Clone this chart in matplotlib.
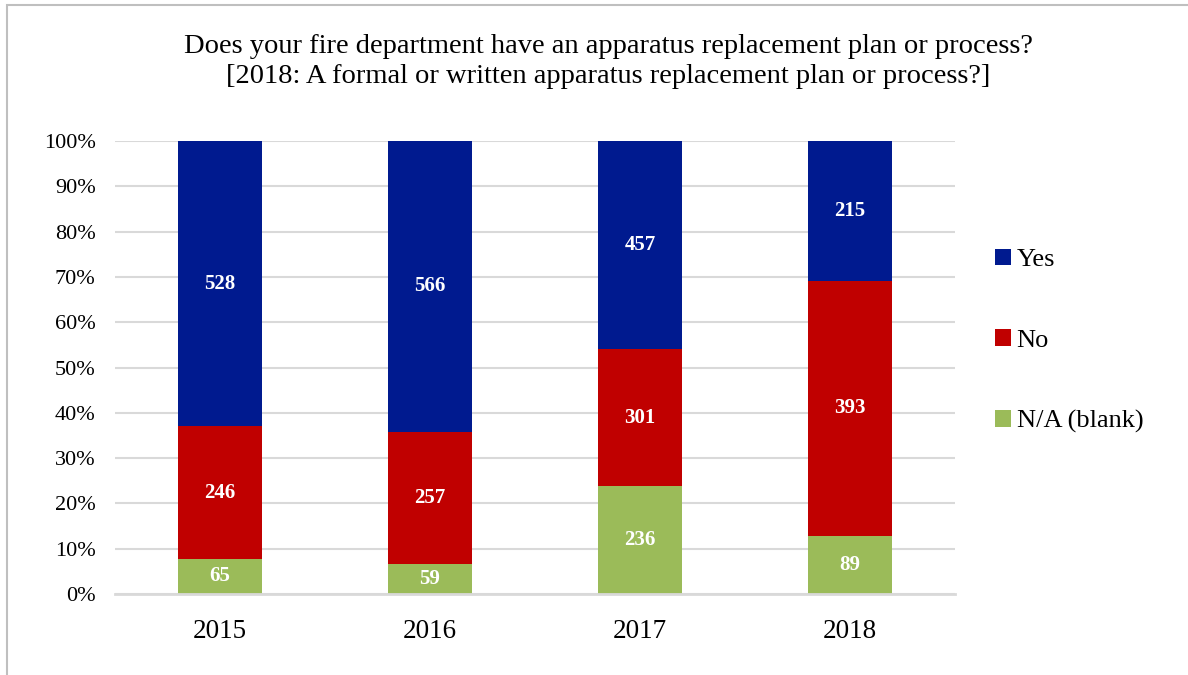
import matplotlib.pyplot as plt
import numpy as np
from matplotlib.patches import Rectangle

years = ["2015", "2016", "2017", "2018"]
na_blank = [65, 59, 236, 89]
no = [246, 257, 301, 393]
yes = [528, 566, 457, 215]

series = [("N/A (blank)", na_blank, "#9BBB59"),
          ("No", no, "#C00000"),
          ("Yes", yes, "#001A8F")]

plt.rcParams['font.family'] = ['Liberation Serif', 'DejaVu Serif']

fig = plt.figure(figsize=(11.88, 6.75), dpi=100)
ax = fig.add_axes([0.0968, 0.12, 0.707, 0.671])

totals = np.array(na_blank) + np.array(no) + np.array(yes)
x = np.arange(len(years))
bottom = np.zeros(len(years))
handles = {}
for name, vals, color in series:
    share = np.array(vals) / totals * 100
    bars = ax.bar(x, share, width=0.4, bottom=bottom, color=color, zorder=3)
    handles[name] = bars
    for xi, b, s, v in zip(x, bottom, share, vals):
        ax.text(xi, b + s / 2, str(v), ha="center", va="center",
                color="white", fontsize=15, fontweight="bold", zorder=4)
    bottom += share

ax.set_xlim(-0.5, 3.5)
ax.set_ylim(0, 100)
ax.set_yticks(np.arange(0, 101, 10))
ax.set_yticklabels([f"{t}%" for t in range(0, 101, 10)], fontsize=16)
ax.set_xticks(x)
ax.set_xticklabels(years, fontsize=19.5)
ax.tick_params(axis="y", length=0, pad=14)
ax.tick_params(axis="x", length=0, pad=18)
ax.grid(axis="y", color="#D9D9D9", linewidth=1.5, zorder=0)
for side in ["top", "right", "left"]:
    ax.spines[side].set_visible(False)
ax.spines["bottom"].set_color("#D9D9D9")
ax.spines["bottom"].set_linewidth(2)
ax.spines["bottom"].set_zorder(5)

leg = ax.legend([handles["Yes"], handles["No"], handles["N/A (blank)"]],
                ["Yes", "No", "N/A (blank)"],
                loc="upper left", bbox_to_anchor=(1.02, 0.815),
                frameon=False, fontsize=19, handlelength=0.6,
                handleheight=0.6, handletextpad=0.2, labelspacing=2.2)

fig.text(0.512, 0.909,
         "Does your fire department have an apparatus replacement plan or process?\n"
         "[2018: A formal or written apparatus replacement plan or process?]",
         ha="center", va="center", fontsize=20.5, linespacing=1.25)

# outer frame of the chart area
fig.patches.append(Rectangle((0.0059, -0.05), 1.2, 1.0426, transform=fig.transFigure,
                             fill=False, edgecolor="#BFBFBF", linewidth=1.5))

fig.savefig("out.png", dpi=100)
